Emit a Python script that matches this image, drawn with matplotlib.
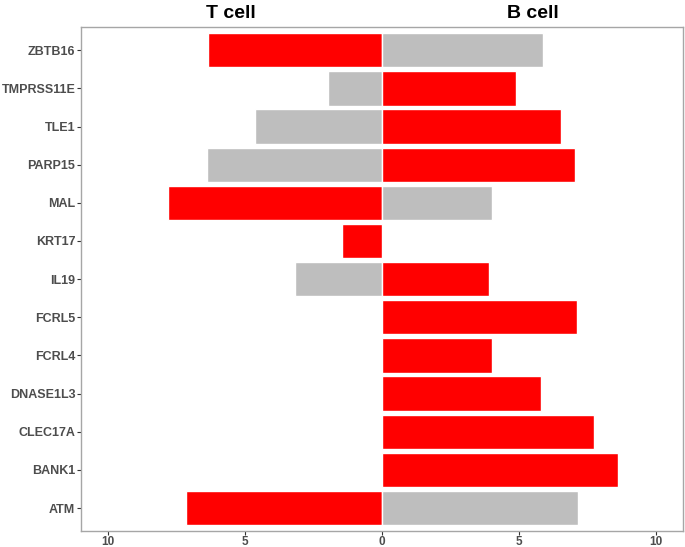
import matplotlib
matplotlib.use("Agg")
import matplotlib.pyplot as plt

# ---------- data (top to bottom) ----------
genes = ["ZBTB16", "TMPRSS11E", "TLE1", "PARP15", "MAL", "KRT17", "IL19",
         "FCRL5", "FCRL4", "DNASE1L3", "CLEC17A", "BANK1", "ATM"]
t_vals = [6.36, 1.95, 4.65, 6.39, 7.82, 1.44, 3.19, 0, 0, 0, 0, 0, 7.14]
t_sig = [1, 0, 0, 0, 1, 1, 0, 0, 0, 0, 0, 0, 1]
b_vals = [5.87, 4.89, 6.53, 7.07, 4.01, 0, 3.93, 7.14, 4.01, 5.83, 7.76, 8.62, 7.15]
b_sig = [0, 1, 1, 1, 0, 0, 1, 1, 1, 1, 1, 1, 0]
xticks = [-10, -5, 0, 5, 10]
xtick_labels = ["10", "5", "0", "5", "10"]

SIG_COLOR = "#FF0000"
NS_COLOR = "#BEBEBE"
TEXT_COLOR = "#4D4D4D"

plt.rcParams["font.family"] = ["Liberation Sans", "DejaVu Sans"]

fig = plt.figure(figsize=(6.85, 5.47), dpi=100)
ax = fig.add_axes([80.7 / 685, 16 / 547, (683 - 80.7) / 685, (531 - 27.3) / 547])

ypos = list(range(len(genes)))

for y, v, s in zip(ypos, t_vals, t_sig):
    if v > 0:
        ax.barh(y, -v, height=0.9, color=SIG_COLOR if s else NS_COLOR,
                edgecolor="white", linewidth=1.0, zorder=2)
for y, v, s in zip(ypos, b_vals, b_sig):
    if v > 0:
        ax.barh(y, v, height=0.9, color=SIG_COLOR if s else NS_COLOR,
                edgecolor="white", linewidth=1.0, zorder=2)

ax.set_xlim(-11, 11)
ax.set_ylim(len(genes) - 0.4, -0.6)
ax.set_yticks(ypos)
ax.set_yticklabels(genes, fontsize=9, fontweight="bold", color=TEXT_COLOR)
ax.set_xticks(xticks)
ax.set_xticklabels(xtick_labels, fontsize=8.5, fontweight="bold", color=TEXT_COLOR)
ax.tick_params(axis="y", length=2.7, width=0.8, color="#333333", pad=1.2)
ax.tick_params(axis="x", length=2.7, width=0.8, color="#333333", pad=0.8)

for sp in ax.spines.values():
    sp.set_color("#A6A6A6")
    sp.set_linewidth(1.0)

ax.text(-5.5, 1.01, "T cell", transform=ax.get_xaxis_transform(),
        ha="center", va="bottom", fontsize=14, fontweight="bold", color="black")
ax.text(5.5, 1.01, "B cell", transform=ax.get_xaxis_transform(),
        ha="center", va="bottom", fontsize=14, fontweight="bold", color="black")

fig.savefig("out.png", dpi=100)
